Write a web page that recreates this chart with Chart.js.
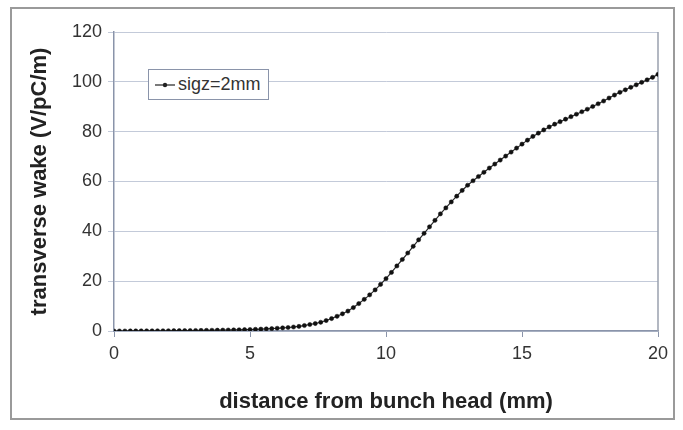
<!DOCTYPE html>
<html>
<head>
<meta charset="utf-8">
<script src="https://cdn.jsdelivr.net/npm/chart.js@4"></script>
<style>
  html, body { margin:0; padding:0; background:#fff; }
  #wrap { position:relative; width:683px; height:430px; overflow:hidden; }
  #frame { position:absolute; left:10px; top:7px; width:665px; height:413px; border:2px solid #9a9a9a; box-sizing:border-box; }
  #c { position:absolute; left:0; top:0; }
  #legend { position:absolute; left:148px; top:69px; width:121px; height:31px; border:1px solid #8a94aa; background:#fff; box-sizing:border-box;
            font-family:"Liberation Sans", Arial, sans-serif; font-size:18px; color:#333; display:flex; align-items:center; }
  #legend svg { margin-left:6px; margin-right:3px; }
</style>
</head>
<body>
<div id="wrap">
  <div id="frame"></div>
  <canvas id="c" width="683" height="430"></canvas>
  <div id="legend"><svg width="20" height="10"><line x1="0" y1="5" x2="20" y2="5" stroke="#222" stroke-width="1.2"/><circle cx="10" cy="5" r="2.2" fill="#222"/></svg><span id="legtext"></span></div>
</div>
<script>
const seriesName = "sigz=2mm";
const xTitle = "distance from bunch head (mm)";
const yTitle = "transverse wake (V/pC/m)";
const xTicks = [0, 5, 10, 15, 20];
const yTicks = [0, 20, 40, 60, 80, 100, 120];

const distance = [
  0.0, 0.2, 0.4, 0.6, 0.8, 1.0, 1.2, 1.4, 1.6, 1.8,
  2.0, 2.2, 2.4, 2.6, 2.8, 3.0, 3.2, 3.4, 3.6, 3.8,
  4.0, 4.2, 4.4, 4.6, 4.8, 5.0, 5.2, 5.4, 5.6, 5.8,
  6.0, 6.2, 6.4, 6.6, 6.8, 7.0, 7.2, 7.4, 7.6, 7.8,
  8.0, 8.2, 8.4, 8.6, 8.8, 9.0, 9.2, 9.4, 9.6, 9.8,
  10.0, 10.2, 10.4, 10.6, 10.8, 11.0, 11.2, 11.4, 11.6, 11.8,
  12.0, 12.2, 12.4, 12.6, 12.8, 13.0, 13.2, 13.4, 13.6, 13.8,
  14.0, 14.2, 14.4, 14.6, 14.8, 15.0, 15.2, 15.4, 15.6, 15.8,
  16.0, 16.2, 16.4, 16.6, 16.8, 17.0, 17.2, 17.4, 17.6, 17.8,
  18.0, 18.2, 18.4, 18.6, 18.8, 19.0, 19.2, 19.4, 19.6, 19.8,
  20.0
];
const wake = [
  0.00, 0.00, 0.01, 0.02, 0.03, 0.05, 0.06, 0.07, 0.08, 0.09,
  0.10, 0.12, 0.14, 0.16, 0.18, 0.20, 0.23, 0.26, 0.29, 0.32,
  0.35, 0.39, 0.43, 0.48, 0.54, 0.60, 0.67, 0.75, 0.84, 0.95,
  1.10, 1.25, 1.40, 1.60, 1.85, 2.20, 2.60, 3.00, 3.50, 4.20,
  5.00, 5.90, 6.90, 8.00, 9.40, 11.0, 12.7, 14.5, 16.5, 18.7,
  21.0, 23.5, 26.1, 28.7, 31.3, 34.0, 36.6, 39.2, 41.8, 44.4,
  47.0, 49.4, 51.8, 54.1, 56.4, 58.5, 60.3, 62.0, 63.7, 65.4,
  67.0, 68.6, 70.2, 71.8, 73.4, 75.0, 76.6, 78.1, 79.4, 80.7,
  81.9, 83.0, 84.0, 85.0, 86.0, 87.0, 88.0, 89.0, 90.1, 91.2,
  92.3, 93.5, 94.7, 95.8, 96.8, 97.8, 98.8, 99.8, 100.8, 101.8,
  103.0
];

document.getElementById('legtext').textContent = seriesName;

const points = distance.map((x, i) => ({ x: x, y: wake[i] }));

const areaBorder = {
  id: 'areaBorder',
  beforeDatasetsDraw(chart) {
    const { ctx, chartArea: a } = chart;
    ctx.save();
    ctx.strokeStyle = '#9aa0ae';
    ctx.lineWidth = 1.5;
    ctx.beginPath();
    ctx.moveTo(a.right, a.top);
    ctx.lineTo(a.right, a.bottom);
    ctx.stroke();
    ctx.restore();
  }
};

const tickFont = { family: '"Liberation Sans", Arial, sans-serif', size: 18 };
const titleFont = { family: '"Liberation Sans", Arial, sans-serif', size: 22, weight: 'bold' };

new Chart(document.getElementById('c'), {
  type: 'scatter',
  data: {
    datasets: [{
      label: seriesName,
      data: points,
      showLine: true,
      borderColor: '#2a2a2a',
      borderWidth: 1.2,
      backgroundColor: '#111',
      pointBackgroundColor: '#111',
      pointBorderColor: '#111',
      pointRadius: 2.1,
      pointBorderWidth: 0.5,
      tension: 0
    }]
  },
  options: {
    responsive: false,
    animation: false,
    devicePixelRatio: 1,
    layout: { padding: { left: 0, top: 32, right: 25, bottom: 0 } },
    plugins: { legend: { display: false }, tooltip: { enabled: false } },
    scales: {
      x: {
        type: 'linear',
        min: 0, max: 20,
        afterBuildTicks: (s) => { s.ticks = xTicks.map(v => ({ value: v })); },
        afterFit: (s) => { s.height = 99; },
        ticks: { font: tickFont, color: '#333', padding: 6, maxRotation: 0 },
        grid: { display: true, drawOnChartArea: false, drawTicks: true, tickLength: 6, color: '#8a94aa' },
        border: { display: true, color: '#8a94aa', width: 1.5 },
        title: { display: true, text: xTitle, font: titleFont, color: '#222', padding: { top: 0, bottom: 15 } }
      },
      y: {
        type: 'linear',
        min: 0, max: 120,
        afterBuildTicks: (s) => { s.ticks = yTicks.map(v => ({ value: v })); },
        afterFit: (s) => { s.width = 114; },
        ticks: { font: tickFont, color: '#333', padding: 6 },
        grid: { display: true, drawTicks: true, tickLength: 6, color: '#c3cad9', lineWidth: 1 },
        border: { display: true, color: '#8a94aa', width: 1.5 },
        title: { display: true, text: yTitle, font: titleFont, color: '#222', padding: { top: 27, bottom: 0 } }
      }
    }
  },
  plugins: [areaBorder]
});
</script>
</body>
</html>
